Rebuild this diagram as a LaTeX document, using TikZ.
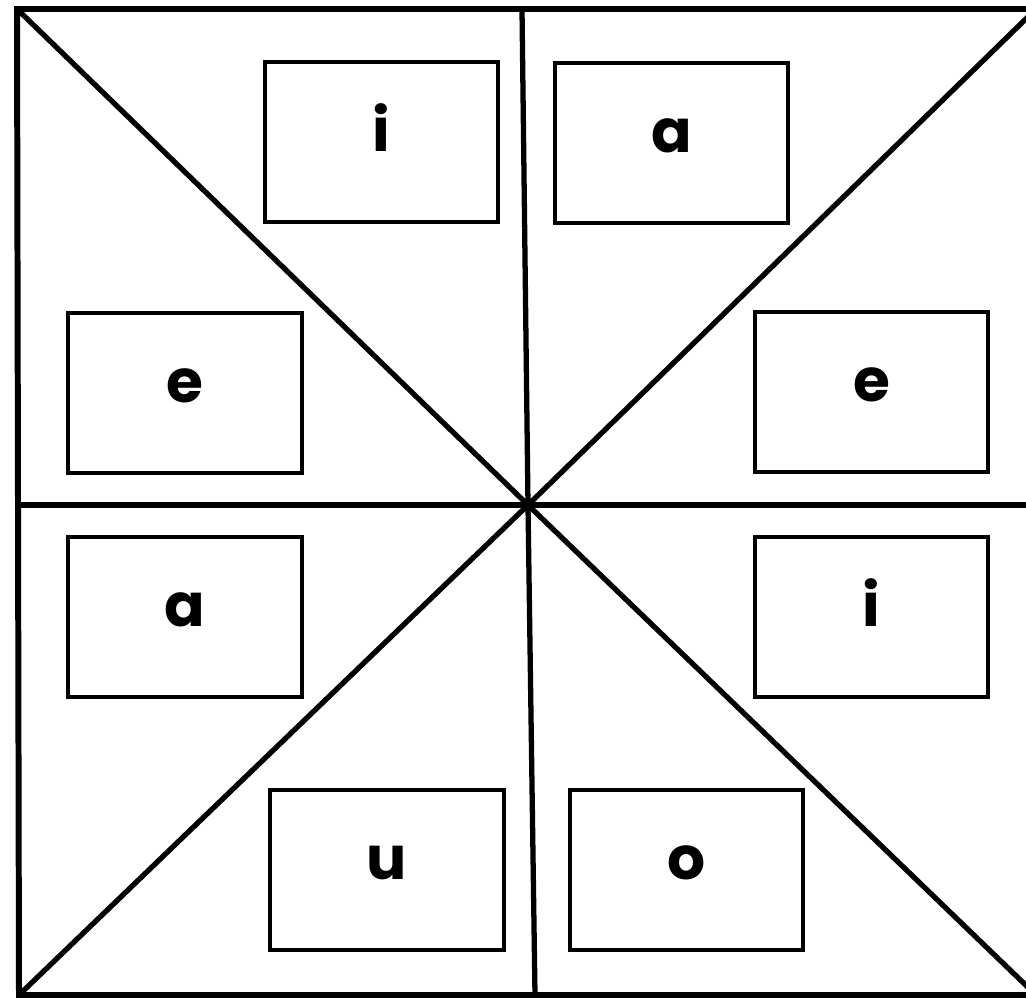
\documentclass[tikz,border=0pt]{standalone}
\usepackage{fontspec}
\setmainfont{Poppins}
\usetikzlibrary{positioning}

\tikzset{
  frameline/.style={line width=1.7pt,line join=miter},
  splitline/.style={line width=1.5pt},
  vowelbox/.style={draw,line width=1.1pt,minimum width=2.33cm,minimum height=1.6cm,inner sep=0pt,
    text height=0.5cm,text depth=0.32cm,font=\fontsize{17}{20}\selectfont\bfseries}
}

\begin{document}
\begin{tikzpicture}[x=0.01cm,y=-0.01cm]
      \clip (0,0) rectangle (1026,1000);
      % corners and middle of the sheet
      \coordinate (tl) at (17,9);
      \coordinate (tr) at (1036,9);
      \coordinate (bl) at (19,995);
      \coordinate (br) at (1036,995);
      \coordinate (mid) at (528,505);
      \coordinate (top) at (522,9);
      \coordinate (bot) at (535,995);
      \coordinate (lft) at (17,505);
      \coordinate (rgt) at (1036,505);
      \draw[frameline] (tl) -- (tr) -- (br) -- (bl) -- cycle;
      \foreach \u/\v in {tl/br,tr/bl,top/bot,lft/rgt}{\draw[splitline] (\u) -- (mid) -- (\v);}
      % the eight vowel cards
      \foreach \n/\x/\y/\t in {ia/381.5/142/i,aa/671.5/143/a,ea/185/393/e,eb/871.5/392/e,ab/185/617/a,ib/871.5/617/i,ua/387/870/u,oa/686.5/870/o}{
        \node[vowelbox] (\n) at (\x,\y) {\t};
      }
    \end{tikzpicture}
\end{document}
